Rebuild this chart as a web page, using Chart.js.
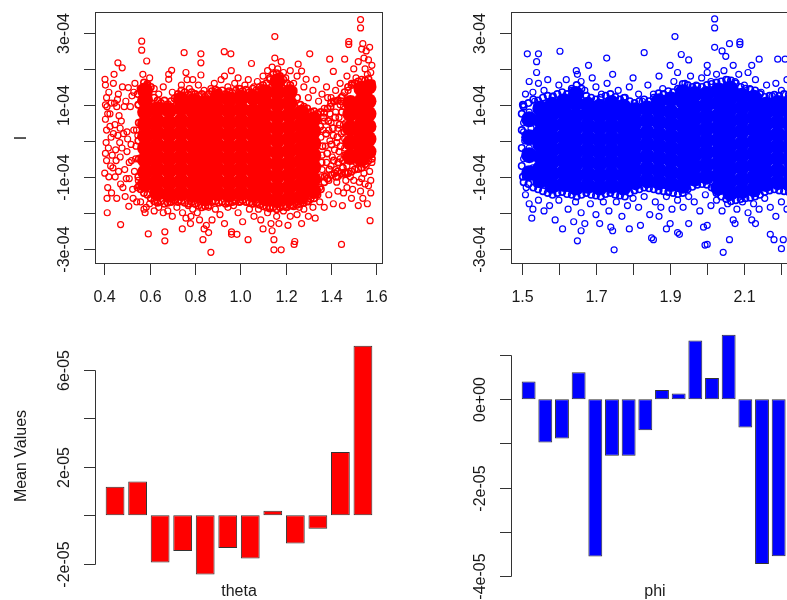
<!DOCTYPE html>
<html>
<head>
<meta charset="utf-8">
<title>I against theta and phi</title>
<script src="https://cdn.jsdelivr.net/npm/chart.js@4.4.0/dist/chart.umd.min.js"></script>
<style>
  html, body { margin: 0; padding: 0; overflow: hidden; background: #fff; }
  #panels { position: relative; width: 832px; height: 600px; }
  #panels canvas { position: absolute; }
</style>
</head>
<body>
<div id="panels">
  <canvas id="thetaScatter" width="416" height="320" style="left:0;top:0"></canvas>
  <canvas id="phiScatter" width="416" height="320" style="left:416px;top:0"></canvas>
  <canvas id="thetaBars" width="416" height="300" style="left:0;top:300px"></canvas>
  <canvas id="phiBars" width="416" height="300" style="left:416px;top:300px"></canvas>
</div>
<script>
// I values are in units of 1e-4, mean values in units of 1e-5

// dense middle of the theta cloud: one column of I values per theta position
const thetaCoreX = [0.58, 0.633, 0.686, 0.739, 0.792, 0.845, 0.898, 0.951, 1.004, 1.057,
  1.11, 1.163, 1.216, 1.269, 1.322, 1.485, 1.534, 1.565];
const thetaCoreI = [
  [-1.2, -0.87, -0.53, -0.2, 0.13, 0.47, 0.8, 1.13, 1.4],
  [-1.45, -1.12, -0.78, -0.45, -0.12, 0.22, 0.55, 0.88],
  [-1.5, -1.17, -0.83, -0.5, -0.17, 0.17, 0.5, 0.85],
  [-1.45, -1.12, -0.78, -0.45, -0.12, 0.22, 0.55, 0.9, 1.15],
  [-1.5, -1.17, -0.83, -0.5, -0.17, 0.17, 0.5, 0.83, 1.1],
  [-1.6, -1.28, -0.95, -0.62, -0.28, 0.05, 0.38, 0.72, 1.05],
  [-1.45, -1.12, -0.78, -0.45, -0.12, 0.22, 0.55, 0.88, 1.2],
  [-1.5, -1.17, -0.83, -0.5, -0.17, 0.17, 0.5, 0.83, 1.15],
  [-1.45, -1.12, -0.78, -0.45, -0.12, 0.22, 0.55, 0.88, 1.2],
  [-1.5, -1.17, -0.83, -0.5, -0.17, 0.17, 0.5, 0.83, 1.2],
  [-1.6, -1.28, -0.95, -0.62, -0.28, 0.05, 0.38, 0.72, 1.05, 1.35],
  [-1.65, -1.32, -0.98, -0.65, -0.32, 0.02, 0.35, 0.68, 1.02, 1.35, 1.65],
  [-1.6, -1.28, -0.95, -0.62, -0.28, 0.05, 0.38, 0.72, 1.05, 1.35],
  [-1.55, -1.22, -0.88, -0.55, -0.22, 0.12, 0.45, 0.78],
  [-1.4, -1.07, -0.73, -0.4, -0.07, 0.27, 0.6],
  [-0.45, -0.05, 0.35, 0.75, 1.05],
  [-0.5, -0.2, 0.12, 0.45, 0.78, 1.1, 1.45],
  [-0.3, 0.05, 0.4, 0.75, 1.1, 1.5]
];

// crowded rim of the theta cloud (theta, I pairs)
const thetaEdge = [
  0.56,1.45, 0.575,1.62, 0.59,1.58, 0.605,1.5, 0.62,1.2, 0.635,1.12, 0.65,1.05, 0.665,1.12, 0.68,1.02, 0.695,1.1,
  0.71,1.18, 0.725,1.3, 0.74,1.4, 0.755,1.35, 0.77,1.28, 0.785,1.35, 0.8,1.3, 0.815,1.25, 0.83,1.3, 0.845,1.22,
  0.86,1.3, 0.875,1.38, 0.89,1.42, 0.905,1.35, 0.92,1.4, 0.935,1.3, 0.95,1.38, 0.965,1.33, 0.98,1.4, 0.995,1.45,
  1.01,1.38, 1.025,1.42, 1.04,1.35, 1.055,1.45, 1.07,1.4, 1.085,1.5, 1.1,1.55, 1.115,1.6, 1.13,1.75, 1.145,1.85,
  1.16,1.88, 1.175,1.8, 1.19,1.7, 1.205,1.6, 1.22,1.55, 1.235,1.4, 1.25,1.2, 1.265,1.0, 1.28,0.95, 1.295,0.9,
  1.31,0.8, 1.325,0.82, 1.34,0.75, 1.355,0.8, 1.37,0.78, 1.385,0.9, 1.4,1.05, 1.415,1.1, 1.43,1.12, 1.445,1.2,
  1.46,1.35, 1.475,1.5, 1.49,1.55, 1.505,1.6, 1.52,1.65, 1.535,1.7, 1.55,1.68, 1.565,1.72, 1.58,1.6,
  0.56,-1.35, 0.575,-1.45, 0.59,-1.5, 0.605,-1.6, 0.62,-1.68, 0.635,-1.72, 0.65,-1.68, 0.665,-1.75, 0.68,-1.72, 0.695,-1.7,
  0.71,-1.65, 0.725,-1.7, 0.74,-1.68, 0.755,-1.72, 0.77,-1.75, 0.785,-1.7, 0.8,-1.75, 0.815,-1.8, 0.83,-1.85, 0.845,-1.82,
  0.86,-1.8, 0.875,-1.7, 0.89,-1.68, 0.905,-1.72, 0.92,-1.7, 0.935,-1.75, 0.95,-1.72, 0.965,-1.7, 0.98,-1.68, 0.995,-1.7,
  1.01,-1.65, 1.025,-1.7, 1.04,-1.72, 1.055,-1.75, 1.07,-1.72, 1.085,-1.78, 1.1,-1.82, 1.115,-1.85, 1.13,-1.88, 1.145,-1.85,
  1.16,-1.9, 1.175,-1.85, 1.19,-1.82, 1.205,-1.85, 1.22,-1.8, 1.235,-1.82, 1.25,-1.78, 1.265,-1.75, 1.28,-1.72, 1.295,-1.68,
  1.31,-1.62, 1.325,-1.6, 1.34,-1.5, 1.355,-1.35, 1.37,-1.15, 1.385,-1.05, 1.4,-0.95, 1.415,-0.9, 1.43,-0.85, 1.445,-0.9,
  1.46,-0.88, 1.475,-0.9, 1.49,-0.85, 1.505,-0.8, 1.52,-0.78, 1.535,-0.75, 1.55,-0.65, 1.565,-0.55, 1.58,-0.5,
  0.55,-1.0, 0.552,-0.5, 0.55,0.0, 0.552,0.5, 0.55,1.0, 0.548,1.3, 0.553,-1.25,
  1.352,0.4, 1.358,-0.6, 1.362,-0.15, 1.368,0.65, 1.372,-1.0, 1.378,0.2, 1.383,-0.35, 1.388,0.55, 1.392,-0.8, 1.398,0.95,
  1.402,-0.1, 1.408,0.35, 1.412,-0.55, 1.418,0.65, 1.422,-1.0, 1.428,0.1, 1.432,-0.6, 1.438,0.45, 1.442,-0.15, 1.448,0.8,
  1.452,-0.75, 1.458,0.25, 1.462,-0.4, 1.468,1.05, 1.472,-0.05, 1.476,0.45, 1.465,-0.9, 1.445,1.1
];

// loose theta points (theta, I pairs)
const thetaRings = [
  0.403,1.71, 0.405,1.55, 0.41,1.2, 0.412,0.95, 0.405,0.6, 0.41,0.3, 0.408,-0.05, 0.405,-0.35, 0.41,-0.55, 0.402,-0.9,
  0.415,-1.3, 0.413,-2.0, 0.42,1.35, 0.425,0.75, 0.43,0.1, 0.428,-0.7, 0.432,-1.45, 0.435,-0.4, 0.44,1.6, 0.443,1.85,
  0.445,1.05, 0.447,0.45, 0.45,-0.25, 0.448,-1.0, 0.455,-1.6, 0.455,0.95, 0.46,2.17, 0.462,1.3, 0.465,0.7, 0.468,-0.05,
  0.47,-0.45, 0.47,0.35, 0.472,-1.2, 0.472,-2.33, 0.475,0.55, 0.479,2.03, 0.48,1.5, 0.485,0.2, 0.49,-0.8, 0.492,-1.55,
  0.495,1.1, 0.5,-0.3, 0.503,0.05, 0.506,1.48, 0.508,-1.82, 0.51,-1.05, 0.515,0.95, 0.52,-0.55, 0.522,1.25, 0.525,-1.35,
  0.53,0.3, 0.533,-0.85, 0.535,1.6, 0.54,-0.15, 0.543,-1.7, 0.548,0.15, 0.55,1.0, 0.55,-1.1, 0.415,0.75, 0.418,-0.2,
  0.42,-1.0, 0.425,0.4, 0.43,1.05, 0.438,-0.75, 0.44,0.2, 0.452,-0.55, 0.458,1.15, 0.46,0.15, 0.463,-0.85, 0.478,-0.2,
  0.482,-1.3, 0.488,0.95, 0.497,-1.05, 0.5,0.25, 0.51,-0.6, 0.518,-0.1, 0.527,-1.6, 0.53,1.35, 0.538,-0.5, 0.542,0.3,
  0.545,-1.3, 0.405,1.0, 0.412,-1.6,
  0.565,2.77, 0.565,2.52, 0.587,2.22, 0.57,1.85, 0.6,1.75, 0.59,1.55, 0.62,1.45, 0.64,1.3, 0.66,1.5, 0.684,1.85,
  0.684,1.71, 0.697,1.96, 0.7,1.35, 0.72,1.2, 0.74,1.55, 0.752,2.45, 0.76,1.9, 0.765,1.7, 0.775,1.45, 0.79,1.7,
  0.8,1.3, 0.826,2.42, 0.826,2.17, 0.826,1.83, 0.815,1.55, 0.84,1.4, 0.855,1.25, 0.87,1.45, 0.885,1.6, 0.9,1.4,
  0.915,1.7, 0.929,2.48, 0.93,1.8, 0.958,2.42, 0.945,1.5, 0.96,1.95, 0.975,1.6, 0.99,1.75, 1.0,1.45, 1.02,1.55,
  1.035,1.7, 1.049,2.15, 1.06,1.5, 1.075,1.65, 1.09,1.45, 1.1,1.8, 1.12,1.95, 1.13,1.7, 1.152,2.9, 1.152,2.3,
  1.14,2.05, 1.165,2.0, 1.18,2.2, 1.19,1.9, 1.2,1.75, 1.22,1.95, 1.235,1.6, 1.25,1.8, 1.255,2.13, 1.27,1.94,
  1.28,1.5, 1.29,1.71, 1.3,1.2, 1.306,2.42, 1.32,1.4, 1.335,1.71, 1.345,1.1, 1.36,1.3, 1.38,1.5, 1.394,2.27,
  1.41,1.93, 1.42,1.4, 1.44,1.6, 1.45,1.25, 1.46,2.27, 1.47,1.8, 1.478,2.76, 1.478,2.68, 1.49,1.6, 1.5,2.0,
  1.51,1.75, 1.52,2.2, 1.53,3.37, 1.53,3.14, 1.535,2.55, 1.54,2.7, 1.545,2.3, 1.55,2.0, 1.555,2.5, 1.56,1.85,
  1.565,2.25, 1.57,2.6, 1.575,1.9, 1.58,2.1,
  0.56,-1.7, 0.575,-1.9, 0.58,-2.0, 0.585,-1.85, 0.594,-2.59, 0.6,-1.75, 0.62,-1.95, 0.64,-1.85, 0.667,-2.53, 0.667,-2.78,
  0.66,-2.0, 0.68,-1.95, 0.7,-2.1, 0.72,-1.85, 0.744,-2.45, 0.745,-2.0, 0.76,-2.15, 0.78,-2.3, 0.782,-2.1, 0.79,-1.9,
  0.81,-2.0, 0.82,-2.2, 0.835,-2.75, 0.84,-2.45, 0.85,-2.35, 0.86,-2.55, 0.87,-3.1, 0.875,-2.2, 0.89,-1.9, 0.91,-2.05,
  0.93,-2.3, 0.945,-1.85, 0.961,-2.53, 0.961,-2.6, 0.985,-2.6, 0.99,-2.0, 1.01,-2.25, 1.034,-2.75, 1.04,-1.9, 1.06,-2.1,
  1.09,-2.2, 1.1,-2.45, 1.12,-2.0, 1.135,-2.3, 1.14,-2.5, 1.148,-2.75, 1.148,-3.03, 1.18,-3.03, 1.16,-2.1, 1.17,-2.3,
  1.19,-1.95, 1.21,-2.35, 1.22,-2.1, 1.237,-2.88, 1.24,-2.8, 1.25,-2.05, 1.27,-2.3, 1.28,-1.9, 1.3,-2.1, 1.33,-2.15,
  1.35,-1.7, 1.37,-1.85, 1.39,-1.5, 1.41,-1.75, 1.43,-1.4, 1.446,-2.88, 1.45,-1.8, 1.47,-1.3, 1.49,-1.6, 1.5,-1.1,
  1.52,-1.8, 1.53,-1.4, 1.545,-0.9, 1.56,-1.75, 1.565,-1.25, 1.572,-2.22, 1.575,-1.1, 1.58,-0.6, 1.555,-0.7, 1.535,-1.05,
  0.63,-1.65, 0.69,-1.7, 0.73,-1.65, 0.77,-1.8, 0.8,-1.75, 0.86,-1.85, 0.92,-1.7, 0.97,-1.8, 1.0,-1.7, 1.05,-1.75,
  1.08,-1.9, 1.13,-1.85, 1.2,-1.85, 1.23,-1.8, 1.26,-1.85, 1.3,-1.7, 1.32,-1.85,
  1.355,-1.0, 1.36,-0.4, 1.365,0.3, 1.37,0.9, 1.39,-1.1, 1.395,0.0, 1.4,0.5, 1.4,-0.7, 1.41,1.1, 1.415,-0.25,
  1.425,-1.15, 1.435,0.65, 1.44,-0.5, 1.445,0.2, 1.45,-0.95, 1.455,0.95, 1.46,-0.2, 1.465,0.5, 1.47,-0.7, 1.475,1.4,
  1.385,1.2, 1.35,-1.3, 1.43,-1.0, 1.455,-1.45, 1.355,0.1, 1.36,-0.8, 1.37,0.55, 1.375,-0.15, 1.38,-0.6, 1.39,0.3,
  1.395,0.75, 1.405,-0.45, 1.41,0.15, 1.42,-0.8, 1.42,0.8, 1.43,0.35, 1.435,-0.3, 1.44,1.0, 1.45,-0.55, 1.455,0.45,
  1.46,0.05, 1.465,-1.1, 1.47,0.75, 1.38,-0.95, 1.4,1.2, 1.425,-0.05,
  1.485,-1.0, 1.495,-1.35, 1.51,-0.6, 1.525,-1.15, 1.54,-1.6, 1.55,-1.2, 1.57,-0.85, 1.575,-1.45, 1.5,-0.45
];

// dense middle of the phi cloud
const phiCoreX = [1.52, 1.55, 1.582, 1.614, 1.646, 1.678, 1.71, 1.742, 1.774, 1.806, 1.838, 1.87,
  1.902, 1.934, 1.966, 1.998, 2.03, 2.062, 2.094, 2.126, 2.158, 2.19, 2.222];
const phiCoreI = [
  [-0.9, -0.4, 0.1, 0.6],
  [-1.1, -0.77, -0.43, -0.1, 0.23, 0.57, 0.9],
  [-1.25, -0.92, -0.58, -0.25, 0.08, 0.42, 0.75, 1.0],
  [-1.2, -0.87, -0.53, -0.2, 0.13, 0.47, 0.8, 1.1],
  [-1.3, -0.97, -0.63, -0.3, 0.03, 0.37, 0.7, 1.05, 1.3],
  [-1.25, -0.92, -0.58, -0.25, 0.08, 0.42, 0.75, 1.0],
  [-1.3, -0.97, -0.63, -0.3, 0.03, 0.37, 0.7, 0.95],
  [-1.25, -0.92, -0.58, -0.25, 0.08, 0.42, 0.75, 1.05],
  [-1.3, -0.97, -0.63, -0.3, 0.03, 0.37, 0.7, 0.95],
  [-1.15, -0.82, -0.48, -0.15, 0.18, 0.52, 0.85],
  [-1.1, -0.77, -0.43, -0.1, 0.23, 0.57, 0.9],
  [-1.15, -0.82, -0.48, -0.15, 0.18, 0.52, 0.85, 1.1],
  [-1.2, -0.87, -0.53, -0.2, 0.13, 0.47, 0.8, 1.15],
  [-1.25, -0.92, -0.58, -0.25, 0.08, 0.42, 0.75, 1.1, 1.35],
  [-1.05, -0.72, -0.38, -0.05, 0.28, 0.62, 0.95, 1.3],
  [-1.0, -0.67, -0.33, 0.0, 0.33, 0.67, 1.0, 1.3],
  [-1.3, -0.97, -0.63, -0.3, 0.03, 0.37, 0.7, 1.05, 1.4],
  [-1.45, -1.12, -0.78, -0.45, -0.12, 0.22, 0.55, 0.88, 1.2, 1.45],
  [-1.4, -1.07, -0.73, -0.4, -0.07, 0.27, 0.6, 0.93, 1.25],
  [-1.35, -1.02, -0.68, -0.35, -0.02, 0.32, 0.65, 0.98, 1.2],
  [-1.2, -0.87, -0.53, -0.2, 0.13, 0.47, 0.8, 1.0],
  [-1.15, -0.82, -0.48, -0.15, 0.18, 0.52, 0.85, 1.05],
  [-1.2, -0.87, -0.53, -0.2, 0.13, 0.47, 0.8, 1.05]
];

// crowded rim of the phi cloud (phi, I pairs)
const phiEdge = [
  1.505,0.95, 1.518,1.05, 1.531,1.15, 1.544,1.12, 1.557,1.2, 1.57,1.25, 1.583,1.22, 1.596,1.3, 1.609,1.35, 1.622,1.3,
  1.635,1.45, 1.648,1.55, 1.661,1.45, 1.674,1.25, 1.687,1.2, 1.7,1.15, 1.713,1.2, 1.726,1.25, 1.739,1.3, 1.752,1.22,
  1.765,1.15, 1.778,1.2, 1.791,1.1, 1.804,1.05, 1.817,1.1, 1.83,1.15, 1.843,1.1, 1.856,1.2, 1.869,1.32, 1.882,1.3,
  1.895,1.38, 1.908,1.35, 1.921,1.45, 1.934,1.58, 1.947,1.55, 1.96,1.5, 1.973,1.52, 1.986,1.5, 1.999,1.55, 2.012,1.58,
  2.025,1.62, 2.038,1.65, 2.051,1.7, 2.064,1.68, 2.077,1.6, 2.09,1.5, 2.103,1.45, 2.116,1.42, 2.129,1.4, 2.142,1.3,
  2.155,1.22, 2.168,1.25, 2.181,1.28, 2.194,1.25, 2.207,1.3, 2.22,1.28, 2.233,1.25, 2.246,1.2,
  1.505,-1.15, 1.518,-1.2, 1.531,-1.3, 1.544,-1.35, 1.557,-1.4, 1.57,-1.45, 1.583,-1.5, 1.596,-1.45, 1.609,-1.42, 1.622,-1.48,
  1.635,-1.5, 1.648,-1.55, 1.661,-1.5, 1.674,-1.45, 1.687,-1.5, 1.7,-1.52, 1.713,-1.55, 1.726,-1.48, 1.739,-1.45, 1.752,-1.5,
  1.765,-1.52, 1.778,-1.55, 1.791,-1.45, 1.804,-1.38, 1.817,-1.35, 1.83,-1.3, 1.843,-1.32, 1.856,-1.35, 1.869,-1.38, 1.882,-1.4,
  1.895,-1.42, 1.908,-1.45, 1.921,-1.48, 1.934,-1.45, 1.947,-1.35, 1.96,-1.28, 1.973,-1.22, 1.986,-1.2, 1.999,-1.22, 2.012,-1.3,
  2.025,-1.45, 2.038,-1.55, 2.051,-1.62, 2.064,-1.68, 2.077,-1.65, 2.09,-1.62, 2.103,-1.6, 2.116,-1.58, 2.129,-1.55, 2.142,-1.5,
  2.155,-1.42, 2.168,-1.38, 2.181,-1.35, 2.194,-1.38, 2.207,-1.4, 2.22,-1.42, 2.233,-1.4, 2.246,-1.38,
  1.5,-0.7, 1.5,-0.2, 1.5,0.3, 1.5,0.75, 1.503,-1.0, 1.503,1.0
];

// loose phi points (phi, I pairs)
const phiRings = [
  1.515,2.42, 1.545,2.42, 1.603,2.49, 1.83,2.45, 1.913,2.9, 2.02,3.39, 2.02,3.14, 2.088,2.75, 2.088,2.68, 2.02,2.6,
  2.04,2.5, 2.06,2.7, 2.05,2.35, 2.14,2.27, 2.19,2.27, 2.21,2.27, 1.54,2.2, 1.54,1.9, 1.647,1.95, 1.65,1.85,
  1.68,2.1, 1.729,2.3, 1.9,2.1, 1.93,2.4, 1.95,2.25, 2.0,2.1, 2.0,1.9, 2.07,2.1, 2.12,2.1, 2.11,1.9,
  1.52,1.65, 1.545,1.6, 1.57,1.7, 1.51,1.3, 1.53,1.35, 1.56,1.4, 1.585,1.25, 1.6,1.55, 1.62,1.7, 1.635,1.4,
  1.66,1.65, 1.67,1.4, 1.69,1.75, 1.7,1.5, 1.715,1.3, 1.73,1.6, 1.745,1.85, 1.76,1.4, 1.775,1.2, 1.79,1.5,
  1.8,1.75, 1.815,1.3, 1.825,1.1, 1.84,1.55, 1.855,1.3, 1.87,1.8, 1.88,1.45, 1.895,1.25, 1.91,1.65, 1.92,1.9,
  1.94,1.6, 1.955,1.8, 1.97,1.55, 1.985,1.75, 2.01,1.65, 2.025,1.85, 2.045,1.95, 2.055,1.7, 2.075,1.65, 2.085,1.85,
  2.1,1.55, 2.115,1.45, 2.13,1.7, 2.145,1.35, 2.16,1.55, 2.175,1.25, 2.185,1.6, 2.2,1.4, 2.215,1.7, 2.23,1.3,
  2.24,1.55,
  1.749,-3.03, 2.043,-3.1, 1.994,-2.9, 2.0,-2.88, 1.65,-2.78, 1.66,-2.5, 2.06,-2.75, 2.17,-2.6, 2.18,-2.75, 2.2,-3.0,
  2.205,-2.75, 2.225,-2.75, 1.527,-2.15, 1.59,-2.2, 1.61,-2.45, 1.64,-2.25, 1.74,-2.4, 1.745,-2.5, 1.79,-2.45, 1.85,-2.7,
  1.855,-2.75, 1.89,-2.45, 1.92,-2.55, 1.925,-2.6, 1.67,-2.3, 1.71,-2.3, 1.82,-2.35, 1.99,-2.4, 2.0,-2.35, 2.07,-2.2,
  2.075,-2.3, 2.12,-2.2, 2.13,-2.3, 1.87,-2.1, 1.9,-2.3, 1.95,-2.3,
  1.51,-1.5, 1.52,-1.75, 1.53,-1.9, 1.545,-1.65, 1.56,-1.95, 1.575,-1.8, 1.6,-1.65, 1.625,-1.9, 1.645,-1.7, 1.66,-2.0,
  1.685,-1.75, 1.7,-2.05, 1.72,-1.7, 1.735,-1.95, 1.755,-1.7, 1.77,-2.1, 1.785,-1.8, 1.8,-1.6, 1.815,-1.85, 1.83,-1.55,
  1.845,-2.05, 1.86,-1.7, 1.875,-1.85, 1.89,-1.55, 1.905,-1.9, 1.92,-1.65, 1.935,-1.85, 1.95,-1.55, 1.965,-1.7, 1.98,-1.95,
  1.995,-1.5, 2.01,-1.8, 2.025,-1.65, 2.04,-1.95, 2.055,-1.75, 2.08,-1.9, 2.095,-1.7, 2.11,-2.0, 2.125,-1.75, 2.14,-1.9,
  2.155,-1.6, 2.17,-1.85, 2.185,-2.1, 2.2,-1.7, 2.215,-1.9, 2.23,-1.6, 2.245,-2.0,
  1.505,1.0, 1.505,0.5, 1.508,0.0, 1.505,-0.5, 1.51,-1.0, 1.512,-1.3, 1.52,0.8, 1.52,-0.2, 1.525,0.35, 1.53,-0.75,
  1.535,1.1, 1.54,-1.2, 1.505,0.25, 1.51,-0.3
];

// mean I per bin
const thetaBins = ['1', '2', '3', '4', '5', '6', '7', '8', '9', '10', '11', '12'];
const thetaMeans = [1.18, 1.39, -1.95, -1.48, -2.45, -1.35, -1.79, 0.18, -1.17, -0.56, 2.61, 7.0];
const phiBins = ['1', '2', '3', '4', '5', '6', '7', '8', '9', '10', '11', '12', '13', '14', '15', '16'];
const phiMeans = [0.40, -0.98, -0.89, 0.61, -3.56, -1.28, -1.28, -0.70, 0.21, 0.13, 1.33, 0.48, 1.46, -0.64, -3.73, -3.55];

// axis ticks and their labels (empty string = tick without label)
const iTicks = [-3, -2, -1, 0, 1, 2, 3];
const iTickLabels = ['-3e-04', '', '-1e-04', '', '1e-04', '', '3e-04'];
const thetaTicks = [0.4, 0.6, 0.8, 1.0, 1.2, 1.4, 1.6];
const thetaTickLabels = ['0.4', '0.6', '0.8', '1.0', '1.2', '1.4', '1.6'];
const phiTicks = [1.5, 1.6, 1.7, 1.8, 1.9, 2.0, 2.1, 2.2];
const phiTickLabels = ['1.5', '', '1.7', '', '1.9', '', '2.1', ''];
const thetaMeanTicks = [-2, 0, 2, 4, 6];
const thetaMeanTickLabels = ['-2e-05', '', '2e-05', '', '6e-05'];
const phiMeanTicks = [-4, -3, -2, -1, 0, 1];
const phiMeanTickLabels = ['-4e-05', '', '-2e-05', '', '0e+00', ''];

const RED = '#ff0000';
const BLUE = '#0000ff';
const INK = '#1a1a1a';
const FONT = '16px "Liberation Sans", Arial, sans-serif';
const TICK_LEN = 11.5;

function pairPoints(flat) {
  const pts = [];
  for (let i = 0; i < flat.length; i += 2) pts.push({ x: flat[i], y: flat[i + 1] });
  return pts;
}

function columnPoints(xs, cols) {
  const pts = [];
  xs.forEach((x, i) => cols[i].forEach(y => pts.push({ x: x, y: y })));
  return pts;
}

// base-graphics style axes: outward ticks, rotated y labels, optional box
const rAxes = {
  id: 'rAxes',
  afterDraw(chart, args, o) {
    const ctx = chart.ctx;
    const area = chart.chartArea;
    const xs = chart.scales.x;
    const ys = chart.scales.y;
    ctx.save();
    ctx.strokeStyle = '#333';
    ctx.fillStyle = INK;
    ctx.lineWidth = 1;
    ctx.font = FONT;
    ctx.textAlign = 'center';
    ctx.textBaseline = 'middle';

    if (o.box) {
      ctx.strokeRect(Math.round(area.left) + 0.5, Math.round(area.top) + 0.5,
        Math.round(area.width) - 1, Math.round(area.height) - 1);
    }

    const ax = o.axisX + 0.5;
    const yp = o.yTicks.map(v => Math.round(ys.getPixelForValue(v)) + 0.5);
    ctx.beginPath();
    ctx.moveTo(ax, yp[0]);
    ctx.lineTo(ax, yp[yp.length - 1]);
    yp.forEach(p => { ctx.moveTo(ax - TICK_LEN, p); ctx.lineTo(ax, p); });
    ctx.stroke();
    o.yLabels.forEach((t, i) => {
      if (!t) return;
      ctx.save();
      ctx.translate(o.axisX - 30, yp[i]);
      ctx.rotate(-Math.PI / 2);
      ctx.fillText(t, 0, 0);
      ctx.restore();
    });

    if (o.xTicks) {
      const by = Math.round(area.bottom) - 0.5;
      const xp = o.xTicks.map(v => Math.round(xs.getPixelForValue(v)) + 0.5);
      ctx.beginPath();
      ctx.moveTo(xp[0], by);
      ctx.lineTo(xp[xp.length - 1], by);
      xp.forEach(p => { ctx.moveTo(p, by); ctx.lineTo(p, by + TICK_LEN); });
      ctx.stroke();
      o.xLabels.forEach((t, i) => { if (t) ctx.fillText(t, xp[i], area.bottom + 34); });
    }

    if (o.xTitle) ctx.fillText(o.xTitle.text, o.xTitle.x, o.xTitle.y);
    if (o.yTitle) {
      ctx.save();
      ctx.translate(o.yTitle.x, o.yTitle.y);
      ctx.rotate(-Math.PI / 2);
      ctx.fillText(o.yTitle.text, 0, 0);
      ctx.restore();
    }
    ctx.restore();
  }
};

const base = {
  responsive: false,
  animation: false,
  events: []
};

function scatterChart(id, core, edge, rings, color, xMin, xMax, axes) {
  return new Chart(document.getElementById(id), {
    type: 'scatter',
    data: {
      datasets: [
        { data: core, clip: 0, pointRadius: 8, pointHoverRadius: 8, pointBorderWidth: 0,
          pointBackgroundColor: color, pointBorderColor: color },
        { data: edge, clip: 0, pointRadius: 3.2, pointHoverRadius: 3.2, pointBorderWidth: 1.6,
          pointBackgroundColor: 'rgba(0,0,0,0)', pointBorderColor: color },
        { data: rings, clip: 0, pointRadius: 3, pointHoverRadius: 3, pointBorderWidth: 1.2,
          pointBackgroundColor: 'rgba(0,0,0,0)', pointBorderColor: color }
      ]
    },
    options: {
      ...base,
      layout: { padding: { left: 95, top: 12, right: 33, bottom: 56 } },
      scales: {
        x: { type: 'linear', display: false, min: xMin, max: xMax },
        y: { type: 'linear', display: false, min: -3.425, max: 3.582 }
      },
      plugins: { legend: { display: false }, tooltip: { enabled: false }, rAxes: axes }
    },
    plugins: [rAxes]
  });
}

function barChart(id, labels, values, color, padding, yMin, yMax, axes) {
  return new Chart(document.getElementById(id), {
    type: 'bar',
    data: {
      labels: labels,
      datasets: [{
        data: values,
        backgroundColor: color,
        borderColor: '#333',
        borderWidth: 1,
        borderSkipped: false,
        barPercentage: 1,
        categoryPercentage: 1 / 1.2
      }]
    },
    options: {
      ...base,
      layout: { padding: padding },
      scales: {
        x: { display: false },
        y: { display: false, min: yMin, max: yMax }
      },
      plugins: { legend: { display: false }, tooltip: { enabled: false }, rAxes: axes }
    },
    plugins: [rAxes]
  });
}

scatterChart('thetaScatter', columnPoints(thetaCoreX, thetaCoreI), pairPoints(thetaEdge), pairPoints(thetaRings),
  RED, 0.359, 1.629, {
    box: true, axisX: 95,
    yTicks: iTicks, yLabels: iTickLabels,
    xTicks: thetaTicks, xLabels: thetaTickLabels,
    yTitle: { text: 'I', x: 21.5, y: 138 }
  });

scatterChart('phiScatter', columnPoints(phiCoreX, phiCoreI), pairPoints(phiEdge), pairPoints(phiRings),
  BLUE, 1.471, 2.2474, {
    box: true, axisX: 95,
    yTicks: iTicks, yLabels: iTickLabels,
    xTicks: phiTicks, xLabels: phiTickLabels
  });

barChart('thetaBars', thetaBins, thetaMeans, RED,
  { left: 103.8, right: 41.8, top: 36, bottom: 16 }, -2.84, 7.40, {
    axisX: 95,
    yTicks: thetaMeanTicks, yLabels: thetaMeanTickLabels,
    xTitle: { text: 'theta', x: 239, y: 291.5 },
    yTitle: { text: 'Mean Values', x: 21.5, y: 156 }
  });

barChart('phiBars', phiBins, phiMeans, BLUE,
  { left: 104.3, right: 45, top: 26, bottom: 16 }, -4.18, 1.656, {
    axisX: 95,
    yTicks: phiMeanTicks, yLabels: phiMeanTickLabels,
    xTitle: { text: 'phi', x: 239, y: 291.5 }
  });
</script>
</body>
</html>
